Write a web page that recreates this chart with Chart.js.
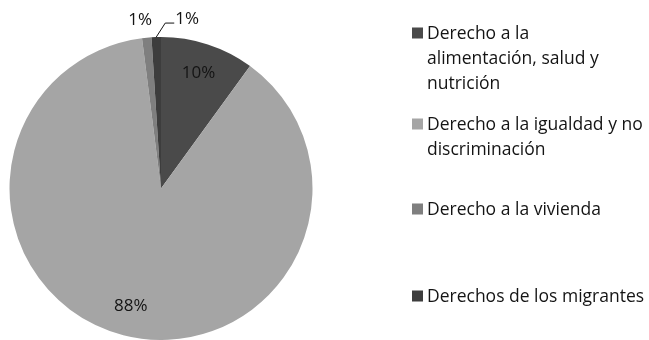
<!DOCTYPE html>
<html>
<head>
<meta charset="utf-8">
<script src="https://cdn.jsdelivr.net/npm/chart.js@4/dist/chart.umd.min.js"></script>
<style>
  html, body { margin: 0; padding: 0; background: #ffffff; }
  #wrap { width: 649px; height: 340px; position: relative; }
</style>
</head>
<body>
<div id="wrap"><canvas id="c"></canvas></div>
<script>
// Categories, shares (percent) and the text drawn for each slice
const categories = [
  "Derecho a la alimentación, salud y nutrición",
  "Derecho a la igualdad y no discriminación",
  "Derecho a la vivienda",
  "Derechos de los migrantes"
];
const legendLines = [
  ["Derecho a la", "alimentación, salud y", "nutrición"],
  ["Derecho a la igualdad y no", "discriminación"],
  ["Derecho a la vivienda"],
  ["Derechos de los migrantes"]
];
const shares = [10, 88, 1, 1];
const percentLabels = ["10%", "88%", "1%", "1%"];
const sliceColors = ["#4a4a4a", "#a5a5a5", "#7f7f7f", "#3d3d3d"];

const FONT = "'Open Sans', 'DejaVu Sans', sans-serif";
const LABEL_SIZE = 17;
const LEGEND_SIZE = 17.5;
const INK = "#141414";

// Percent labels: big slices inside the pie, thin slices just outside it
const sliceLabels = {
  id: "sliceLabels",
  afterDatasetsDraw(chart) {
    const ctx = chart.ctx;
    const arcs = chart.getDatasetMeta(0).data;
    ctx.save();
    ctx.font = LABEL_SIZE + "px " + FONT;
    ctx.fillStyle = INK;
    ctx.textBaseline = "middle";
    ctx.textAlign = "center";
    arcs.forEach((arc, i) => {
      const p = arc.getProps(["x", "y", "startAngle", "endAngle", "outerRadius"], true);
      const mid = (p.startAngle + p.endAngle) / 2;
      const cos = Math.cos(mid), sin = Math.sin(mid);
      if (shares[i] >= 5) {
        const r = p.outerRadius * 0.8;
        ctx.fillText(percentLabels[i], p.x + cos * r, p.y + sin * r);
      } else if (i === arcs.length - 1) {
        // last thin slice: label pushed right with a leader line
        const ex = p.x + cos * p.outerRadius, ey = p.y + sin * p.outerRadius;
        const kx = ex + 9, ky = ey - 14;
        ctx.strokeStyle = INK;
        ctx.lineWidth = 1;
        ctx.beginPath();
        ctx.moveTo(ex, ey);
        ctx.lineTo(kx, ky);
        ctx.lineTo(kx + 9, ky);
        ctx.stroke();
        ctx.textAlign = "left";
        ctx.fillText(percentLabels[i], kx + 10, ky - 4);
        ctx.textAlign = "center";
      } else {
        const r = p.outerRadius + 18;
        ctx.fillText(percentLabels[i], p.x + cos * r - 5, p.y + sin * r);
      }
    });
    ctx.restore();
  }
};

// Legend on the right: square marker plus wrapped category text
const sideLegend = {
  id: "sideLegend",
  afterDraw(chart) {
    const ctx = chart.ctx;
    const entryBaselines = [39, 130, 215, 302];
    const lineGap = 25;
    const markerX = 412, textX = 427, box = 11;
    ctx.save();
    ctx.font = LEGEND_SIZE + "px " + FONT;
    ctx.textBaseline = "alphabetic";
    ctx.textAlign = "left";
    legendLines.forEach((lines, i) => {
      const y0 = entryBaselines[i];
      ctx.fillStyle = sliceColors[i];
      ctx.fillRect(markerX, y0 - box - 0.5, box, box);
      ctx.fillStyle = INK;
      lines.forEach((t, k) => ctx.fillText(t, textX, y0 + k * lineGap));
    });
    ctx.restore();
  }
};

new Chart(document.getElementById("c"), {
  type: "pie",
  data: {
    labels: categories,
    datasets: [{
      data: shares,
      backgroundColor: sliceColors,
      borderWidth: 0
    }]
  },
  options: {
    responsive: true,
    maintainAspectRatio: false,
    animation: false,
    layout: { padding: { left: 9, right: 336, top: 37, bottom: 0 } },
    plugins: {
      legend: { display: false },
      tooltip: { enabled: false }
    }
  },
  plugins: [sliceLabels, sideLegend]
});
</script>
</body>
</html>
